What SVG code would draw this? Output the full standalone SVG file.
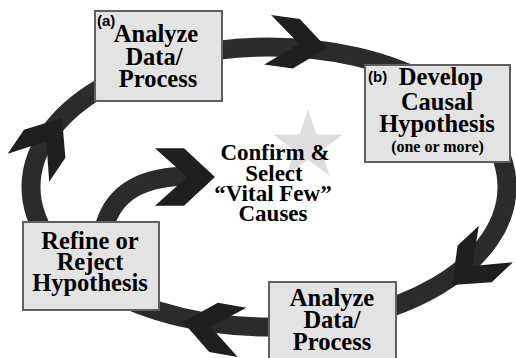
<svg xmlns="http://www.w3.org/2000/svg" width="516" height="358" viewBox="0 0 516 358">
<defs>
<style>
.band{fill:none;stroke:#2b2b2b;stroke-width:19}
.chev{fill:#1f1f1f}
.box{fill:#e3e3e3;stroke:#5f5f5f;stroke-width:2}
.t{font-family:"Liberation Serif","Times New Roman",serif;font-weight:bold;font-size:24.5px;fill:#000;text-anchor:middle}
.c{font-size:23px}
.s{font-size:16px}
.lab{font-family:"Liberation Sans",Arial,sans-serif;font-weight:bold;font-size:15px;fill:#000}
</style>
<polygon id="chev" points="0,0 -31,-25 -60,-25 -28,0 -60,25 -31,25"/>
</defs>
<rect width="516" height="358" fill="#fff"/>
<polygon id="star" points="308,109 316.3,134.6 343.2,134.6 321.4,150.4 329.8,175.9 308,160.1 286.2,175.9 294.6,150.4 272.8,134.6 299.7,134.6" fill="#dedede"/>
<g id="connectors">
<ellipse class="band" cx="269" cy="187" rx="238" ry="140"/>
<path class="band" d="M104,228 C114,190 145,176 192,176"/>
<use href="#chev" class="chev" transform="translate(327,48) rotate(8)"/>
<use href="#chev" class="chev" transform="translate(452,285) rotate(137)"/>
<use href="#chev" class="chev" transform="translate(183,322) rotate(190)"/>
<use href="#chev" class="chev" transform="translate(62,118) rotate(-56)"/>
<use href="#chev" class="chev" transform="translate(215,177) scale(1,1.15)"/>
</g>
<g id="analyze-a">
<rect class="box" x="95" y="11" width="127" height="90"/>
<text class="lab" x="97" y="26">(a)</text>
<text class="t" x="156" y="42">Analyze</text>
<text class="t" x="154" y="65">Data/</text>
<text class="t" x="158" y="87">Process</text>
</g>
<g id="develop-b">
<rect class="box" x="365" y="65" width="145" height="97"/>
<text class="lab" x="368" y="82">(b)</text>
<text class="t" x="441" y="85">Develop</text>
<text class="t" x="437" y="110">Causal</text>
<text class="t" x="437" y="132">Hypothesis</text>
<text class="t s" x="437.5" y="152">(one or more)</text>
</g>
<g id="refine">
<rect class="box" x="23" y="222" width="136" height="88"/>
<text class="t" x="90" y="249">Refine or</text>
<text class="t" x="90" y="270">Reject</text>
<text class="t" x="90" y="291">Hypothesis</text>
</g>
<g id="analyze-bottom">
<rect class="box" x="269" y="282" width="127" height="90"/>
<text class="t" x="332" y="306">Analyze</text>
<text class="t" x="332" y="328">Data/</text>
<text class="t" x="332" y="350">Process</text>
</g>
<g id="confirm">
<text class="t c" x="275" y="160">Confirm &amp;</text>
<text class="t c" x="274" y="181">Select</text>
<text class="t c" x="273" y="201">“Vital Few”</text>
<text class="t c" x="273" y="221">Causes</text>
</g>
</svg>
